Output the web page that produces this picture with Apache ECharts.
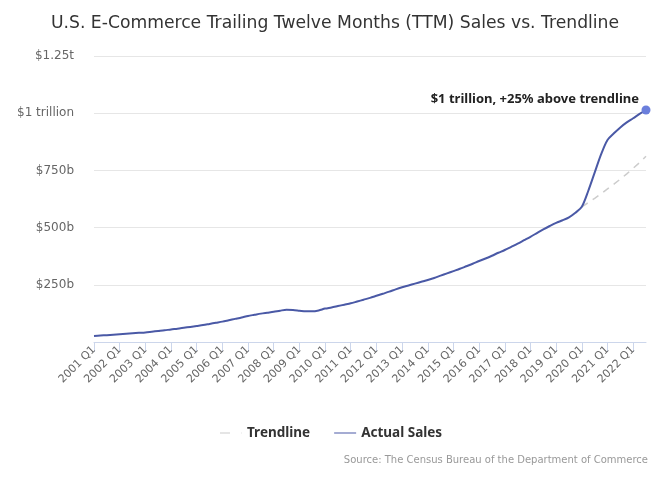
<!DOCTYPE html>
<html>
<head>
<meta charset="utf-8">
<script src="https://cdn.jsdelivr.net/npm/echarts@6/dist/echarts.min.js"></script>
<style>
html,body{margin:0;padding:0;background:#fff;}
#chart{width:670px;height:483px;}
</style>
</head>
<body>
<div id="chart"></div>
<script>
// Quarterly categories 2001 Q1 .. 2022 Q3
const years = [2001,2002,2003,2004,2005,2006,2007,2008,2009,2010,2011,2012,2013,2014,2015,2016,2017,2018,2019,2020,2021,2022];
const quarters = ['Q1','Q2','Q3','Q4'];
const lastQuarterCount = 3;

// Actual TTM sales, billions USD
const actualSales = [
  26, 28, 30, 32,
  34, 36, 38, 40,
  42, 45, 48, 51,
  55, 58, 62, 66,
  70, 74, 79, 84,
  89, 95, 101, 107,
  114, 119, 124, 128,
  132, 137, 141, 140,
  137, 134, 134, 138,
  146, 151, 157, 163,
  169, 177, 185, 193,
  202, 211, 220, 230,
  239, 247, 255, 263,
  271, 280, 290, 300,
  310, 320, 331, 342,
  354, 365, 377, 390,
  402, 416, 430, 445,
  460, 476, 492, 507,
  521, 532, 545, 565,
  591, 660, 740, 820,
  883, 912, 938, 960,
  978, 997, 1014
];

// Trendline, billions USD, from 2020 Q1 to 2022 Q3
const trendStartIndex = 76;
const trendValues = [591, 609, 628, 648, 669, 690, 712, 735, 759, 784, 812];

const yTickLabels = {0: '', 250: '$250b', 500: '$500b', 750: '$750b', 1000: '$1 trillion', 1250: '$1.25t'};
const annotationText = '$1 trillion, +25% above trendline';
const sourceText = 'Source: The Census Bureau of the Department of Commerce';

const categories = [];
years.forEach((y, i) => {
  const n = (i === years.length - 1) ? lastQuarterCount : 4;
  for (let q = 0; q < n; q++) categories.push(y + ' ' + quarters[q]);
});

const trendSeries = categories.map((c, i) => {
  const k = i - trendStartIndex;
  return (k >= 0 && k < trendValues.length) ? trendValues[k] : null;
});

const actualSeries = actualSales.map((v, i) => {
  if (i === actualSales.length - 1) {
    return {
      value: v,
      symbol: 'circle',
      symbolSize: 9,
      itemStyle: {color: '#6b7fdc'},
      label: {
        show: true,
        position: 'top',
        align: 'right',
        offset: [-7, 5],
        formatter: annotationText,
        fontFamily: 'Noto Sans',
        fontSize: 13,
        fontWeight: 'bold',
        color: '#222'
      }
    };
  }
  return {value: v, symbol: 'none', label: {show: false}};
});

const FONT = 'DejaVu Sans';
const chart = echarts.init(document.getElementById('chart'), null, {renderer: 'canvas'});
chart.setOption({
  backgroundColor: '#ffffff',
  animation: false,
  title: {
    text: 'U.S. E-Commerce Trailing Twelve Months (TTM) Sales vs. Trendline',
    left: 'center',
    top: 10,
    textStyle: {fontFamily: FONT, fontSize: 17.2, fontWeight: 'normal', color: '#333'}
  },
  graphic: [{
    type: 'text',
    right: 22,
    top: 455,
    style: {text: sourceText, fontFamily: FONT, fontSize: 10, fill: '#999'}
  }],
  legend: {
    bottom: 38,
    left: 215,
    itemGap: 24,
    itemWidth: 22,
    itemHeight: 2,
    textStyle: {fontFamily: 'Noto Sans', fontSize: 13.5, fontWeight: 'bold', color: '#333'},
    data: [
      {name: 'Trendline', icon: 'path://M0,0H10V1H0Z M21.5,0H22V1H21.5Z', itemStyle: {color: '#cccccc'}},
      {name: 'Actual Sales', icon: 'path://M0,0H22V1H0Z', itemStyle: {color: '#4a59a6'}}
    ]
  },
  grid: {left: 94, right: 24, top: 56, bottom: 141, containLabel: false},
  xAxis: {
    type: 'category',
    data: categories,
    boundaryGap: false,
    axisLine: {lineStyle: {color: '#ccd6eb', width: 1}},
    axisTick: {show: true, interval: 3, length: 10, lineStyle: {color: '#ccd6eb'}},
    axisLabel: {interval: 3, rotate: 45, fontFamily: FONT, fontSize: 11, color: '#666', margin: 6},
    splitLine: {show: false}
  },
  yAxis: {
    type: 'value',
    min: 0,
    max: 1250,
    interval: 250,
    axisLine: {show: false},
    axisTick: {show: false},
    axisLabel: {fontFamily: FONT, fontSize: 12, color: '#666', margin: 20, formatter: v => yTickLabels[v] ?? ''},
    splitLine: {lineStyle: {color: '#e6e6e6', width: 1}}
  },
  series: [
    {
      name: 'Trendline',
      type: 'line',
      data: trendSeries,
      symbol: 'none',
      lineStyle: {color: '#cccccc', width: 1.5, type: [7, 6]},
      itemStyle: {color: '#cccccc'},
      z: 1
    },
    {
      name: 'Actual Sales',
      type: 'line',
      data: actualSeries,
      smooth: 0.3,
      showSymbol: true,
      showAllSymbol: true,
      symbol: 'none',
      lineStyle: {color: '#4a59a6', width: 2},
      itemStyle: {color: '#4a59a6'},
      z: 2
    }
  ]
});
</script>
</body>
</html>
